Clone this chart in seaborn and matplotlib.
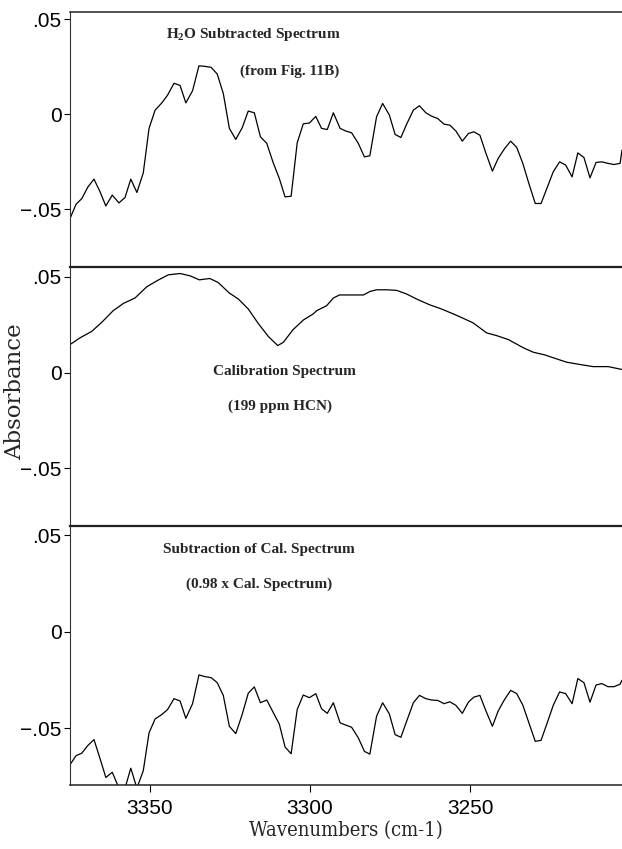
import matplotlib
matplotlib.use("Agg")
import matplotlib.pyplot as plt
import seaborn as sns
import pandas as pd

# ---- data -------------------------------------------------------------
wavenumbers = [
    3375.0, 3373.1, 3371.3, 3369.4, 3367.5, 3365.6, 3363.8, 3361.8, 3359.7, 3357.8,
    3356.0, 3354.1, 3352.1, 3350.3, 3348.4, 3346.3, 3344.5, 3342.5, 3340.6, 3338.8,
    3336.7, 3334.7, 3332.8, 3330.9, 3329.0, 3327.1, 3325.2, 3323.2, 3321.2, 3319.3,
    3317.4, 3315.5, 3313.5, 3311.6, 3309.6, 3307.8, 3305.9, 3304.0, 3302.1, 3300.2,
    3298.2, 3296.4, 3294.6, 3292.7, 3290.6, 3288.8, 3287.0, 3284.9, 3283.0, 3281.3,
    3279.2, 3277.3, 3275.2, 3273.4, 3271.6, 3269.8, 3267.7, 3265.8, 3263.8, 3262.0,
    3260.1, 3258.1, 3256.3, 3254.4, 3252.4, 3250.5, 3248.8, 3246.9, 3245.0, 3243.0,
    3241.2, 3239.3, 3237.3, 3235.4, 3233.5, 3231.6, 3229.6, 3227.8, 3225.8, 3224.0,
    3222.0, 3220.1, 3218.1, 3216.3, 3214.4, 3212.5, 3210.6, 3208.8, 3206.9, 3205.0,
    3203.1, 3202.5,
]

h2o_subtracted = [
    -0.0549, -0.0474, -0.0444, -0.0383, -0.0342, -0.0409, -0.0483, -0.0426, -0.0467, -0.0438,
    -0.0342, -0.0412, -0.0309, -0.0075, 0.0021, 0.0059, 0.0100, 0.0162, 0.0151, 0.0059,
    0.0123, 0.0254, 0.0251, 0.0246, 0.0211, 0.0109, -0.0075, -0.0133, -0.0072, 0.0016,
    0.0007, -0.0119, -0.0154, -0.0251, -0.0338, -0.0435, -0.0432, -0.0151, -0.0051, -0.0047,
    -0.0012, -0.0075, -0.0081, 0.0007, -0.0075, -0.0089, -0.0098, -0.0154, -0.0225, -0.0219,
    -0.0014, 0.0056, -0.0005, -0.0107, -0.0123, -0.0053, 0.0021, 0.0044, 0.0007, -0.0011,
    -0.0023, -0.0053, -0.0058, -0.0089, -0.0142, -0.0102, -0.0093, -0.0111, -0.0207, -0.0300,
    -0.0233, -0.0184, -0.0142, -0.0175, -0.0259, -0.0365, -0.0470, -0.0470, -0.0383, -0.0304,
    -0.0251, -0.0268, -0.0330, -0.0204, -0.0228, -0.0335, -0.0254, -0.0251, -0.0259, -0.0265,
    -0.0259, -0.0189,
]

cal_subtracted = [
    -0.0689, -0.0642, -0.0629, -0.0589, -0.0559, -0.0658, -0.0755, -0.0728, -0.0810, -0.0810,
    -0.0707, -0.0810, -0.0720, -0.0524, -0.0452, -0.0429, -0.0403, -0.0347, -0.0359, -0.0449,
    -0.0373, -0.0224, -0.0233, -0.0238, -0.0264, -0.0330, -0.0490, -0.0528, -0.0429, -0.0319,
    -0.0286, -0.0368, -0.0354, -0.0415, -0.0478, -0.0597, -0.0632, -0.0403, -0.0328, -0.0342,
    -0.0321, -0.0399, -0.0423, -0.0368, -0.0472, -0.0484, -0.0495, -0.0550, -0.0620, -0.0634,
    -0.0438, -0.0368, -0.0426, -0.0533, -0.0547, -0.0464, -0.0368, -0.0330, -0.0347, -0.0354,
    -0.0356, -0.0373, -0.0363, -0.0382, -0.0423, -0.0365, -0.0339, -0.0330, -0.0411, -0.0490,
    -0.0411, -0.0354, -0.0304, -0.0321, -0.0380, -0.0472, -0.0568, -0.0563, -0.0469, -0.0382,
    -0.0312, -0.0321, -0.0373, -0.0243, -0.0264, -0.0365, -0.0276, -0.0269, -0.0285, -0.0285,
    -0.0272, -0.0252,
]

cal_wavenumbers = [
    3375.0, 3371.9, 3368.2, 3365.1, 3361.5, 3358.3, 3354.7, 3351.0, 3347.4, 3344.3,
    3340.6, 3337.5, 3334.6, 3331.3, 3328.7, 3325.2, 3322.4, 3319.3, 3316.2, 3313.0,
    3310.1, 3308.3, 3305.4, 3302.1, 3299.0, 3297.9, 3294.8, 3292.7, 3290.8, 3287.0,
    3283.3, 3281.3, 3279.2, 3276.0, 3272.9, 3269.8, 3266.2, 3262.5, 3259.4, 3255.2,
    3252.1, 3249.0, 3244.8, 3241.7, 3238.0, 3233.3, 3230.2, 3226.6, 3223.4, 3219.8,
    3215.6, 3211.5, 3206.8, 3202.5,
]

calibration = [
    0.0146, 0.0181, 0.0215, 0.0262, 0.0323, 0.0361, 0.0389, 0.0448, 0.0483, 0.0510,
    0.0517, 0.0505, 0.0484, 0.0491, 0.0470, 0.0415, 0.0384, 0.0332, 0.0257, 0.0188,
    0.0141, 0.0158, 0.0222, 0.0274, 0.0306, 0.0323, 0.0349, 0.0389, 0.0405, 0.0405,
    0.0405, 0.0423, 0.0432, 0.0432, 0.0429, 0.0410, 0.0380, 0.0353, 0.0335, 0.0306,
    0.0283, 0.0259, 0.0207, 0.0193, 0.0172, 0.0129, 0.0106, 0.0092, 0.0074, 0.0054,
    0.0042, 0.0031, 0.0031, 0.0016,
]

y_ticks = [0.05, 0.0, -0.05]
y_tick_labels = [".05", "0", "\u2212.05"]
x_ticks = [3350, 3300, 3250]
x_tick_labels = ["3350", "3300", "3250"]

panel_labels = [
    ("H$_2$O Subtracted Spectrum", "(from Fig. 11B)"),
    ("Calibration Spectrum", "(199 ppm HCN)"),
    ("Subtraction of Cal. Spectrum", "(0.98 x Cal. Spectrum)"),
]

# ---- style ------------------------------------------------------------
sns.set_style("white")
plt.rcParams["font.family"] = ["Liberation Sans", "DejaVu Sans"]
plt.rcParams["mathtext.fontset"] = "custom"
plt.rcParams["mathtext.rm"] = "Liberation Serif:bold"
plt.rcParams["mathtext.it"] = "Liberation Serif:bold"
plt.rcParams["mathtext.bf"] = "Liberation Serif:bold"

W, H = 622, 849
fig = plt.figure(figsize=(W / 100, H / 100), dpi=100)
fig.patch.set_facecolor("white")


def frac_box(top_px, bottom_px):
    return [70 / W, 1 - bottom_px / H, 552 / W, (bottom_px - top_px) / H]


panels = [
    dict(box=frac_box(12, 267), x=wavenumbers, y=h2o_subtracted, ylim=(-0.0804, 0.0537),
         text_pos=[(0.332, 0.912), (0.397, 0.766)]),
    dict(box=frac_box(267, 526), x=cal_wavenumbers, y=calibration, ylim=(-0.0801, 0.0551),
         text_pos=[(0.389, 0.595), (0.380, 0.461)]),
    dict(box=frac_box(526, 785), x=wavenumbers, y=cal_subtracted, ylim=(-0.0794, 0.0547),
         text_pos=[(0.342, 0.911), (0.342, 0.776)]),
]

label_font = dict(family=["Liberation Serif", "DejaVu Serif"], weight="bold", size=11)

axes = []
for i, p in enumerate(panels):
    ax = fig.add_axes(p["box"])
    df = pd.DataFrame({"wavenumber": p["x"], "absorbance": p["y"]})
    sns.lineplot(data=df, x="wavenumber", y="absorbance", ax=ax, color="black",
                 linewidth=0.9, estimator=None)
    ax.set_xlim(3375, 3202.5)
    ax.set_ylim(*p["ylim"])
    ax.set_xlabel("")
    ax.set_ylabel("")
    ax.set_yticks(y_ticks)
    ax.set_yticklabels(y_tick_labels)
    ax.tick_params(axis="y", direction="out", length=4.5, width=0.8, pad=1.5,
                   labelsize=15, colors="black", left=True)
    ax.spines["right"].set_visible(False)
    ax.spines["left"].set_linewidth(0.8)
    ax.spines["left"].set_color("#333333")
    ax.spines["top"].set_linewidth(1.1 if i == 0 else 1.6)
    ax.spines["top"].set_color("#222222")
    if i < 2:
        ax.spines["bottom"].set_visible(False)
        ax.set_xticks([])
    else:
        ax.spines["bottom"].set_linewidth(1.1)
        ax.spines["bottom"].set_color("#222222")
        ax.set_xticks(x_ticks)
        ax.set_xticklabels(x_tick_labels)
        ax.tick_params(axis="x", direction="out", length=5, width=0.8, pad=5,
                       labelsize=15, colors="black", bottom=True)
    for (tx, ty), s in zip(p["text_pos"], panel_labels[i]):
        ax.text(tx, ty, s, transform=ax.transAxes, ha="center", va="center", **label_font)
    axes.append(ax)

axes[2].set_xlabel("Wavenumbers (cm-1)", family=["DejaVu Serif"], fontstretch="condensed",
                   fontsize=14.5, labelpad=2)
fig.text(15 / W, 1 - 392 / H, "Absorbance", rotation=90, ha="center", va="center",
         family=["DejaVu Serif"], fontsize=16.5)

fig.savefig("out.png", dpi=100, facecolor="white")
